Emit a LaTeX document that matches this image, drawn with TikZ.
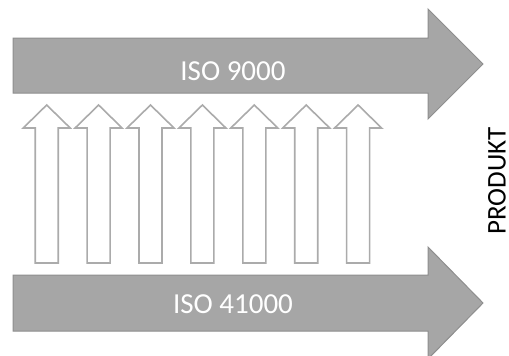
\documentclass[tikz,border=0pt]{standalone}
\usepackage{fontspec}
\setmainfont{Carlito}
\definecolor{arrowgray}{HTML}{A6A6A6}
\definecolor{edgegray}{HTML}{8E8E8E}
\definecolor{upgray}{HTML}{ABABAB}
\tikzset{
  bigarrow/.style={fill=arrowgray, draw=edgegray, line width=1pt, line join=miter},
  uparrow/.style={fill=white, draw=upgray, line width=1.6pt, line join=miter},
  biglabel/.style={text=white, font=\fontsize{29}{29}\selectfont, anchor=base, inner sep=0pt},
}
\begin{document}
\begin{tikzpicture}[x=1pt,y=-1pt]
\useasboundingbox (0,0) rectangle (509,356);
% top arrow
\draw[bigarrow] (13,38) -- (428,38) -- (428,9) -- (483,64) -- (428,119) -- (428,93) -- (13,93) -- cycle;
\node[biglabel] (iso9000) at (233,80) {ISO 9000};
% bottom arrow
\draw[bigarrow] (13,275) -- (428,275) -- (428,247) -- (483,303) -- (428,359) -- (428,331) -- (13,331) -- cycle;
\node[biglabel] (iso41000) at (233,313) {ISO 41000};
% up arrows
\foreach \i in {0,...,6}{
  \pgfmathsetmacro{\cx}{46.7+51.9*\i}
  \draw[uparrow] (\cx-11.5,263) -- (\cx-11.5,128) -- (\cx-23.5,128) -- (\cx,105) -- (\cx+23.5,128) -- (\cx+11.5,128) -- (\cx+11.5,263) -- cycle;
}
\node[rotate=90, font=\fontsize{27}{27}\selectfont, inner sep=0pt] (produkt) at (497,181) {PRODUKT};
\end{tikzpicture}
\end{document}
